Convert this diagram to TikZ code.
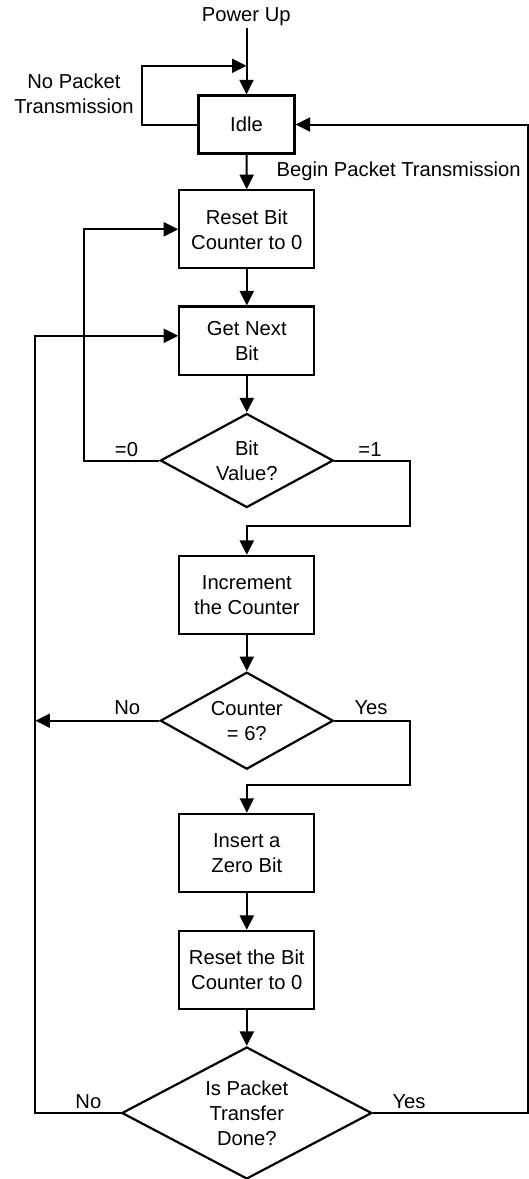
\documentclass[tikz,border=0pt]{standalone}
\usepackage{fontspec}
\setmainfont{Liberation Sans}
\usetikzlibrary{arrows.meta,shapes.geometric}
\begin{document}
\begin{tikzpicture}[x=1pt,y=-1pt,
  font=\fontsize{20.2}{25}\selectfont,
  box/.style={draw, line width=2.2pt, minimum width=135pt, minimum height=78pt, inner sep=0pt, align=center},
  dec/.style={draw, diamond, line width=2.2pt, inner sep=0pt, align=center},
  conn/.style={line width=2pt},
  arr/.style={conn, -{Triangle[length=14.5pt,width=14pt]}},
  lab/.style={inner sep=0pt}]
\useasboundingbox (0,0) rectangle (529,1179);

% nodes
\node[box, minimum width=96pt, minimum height=58pt] (idle) at (246.5,124.5) {Idle};
\node[box] (reset) at (246.8,229.3) {Reset Bit\\Counter to 0};
\node[box, minimum height=68.5pt] (gnb) at (246.8,340.8) {Get Next\\Bit};
\node[dec, minimum width=173pt, minimum height=94pt, shape aspect=1.8] (bitv) at (246.8,460.5) {Bit\\Value?};
\node[box] (inc) at (246.8,595) {Increment\\the Counter};
\node[dec, minimum width=173pt, minimum height=97pt, shape aspect=1.8] (cnt) at (246.8,720.7) {Counter\\= 6?};
\node[box] (ins) at (246.8,852.9) {Insert a\\Zero Bit};
\node[box] (reset2) at (246.8,970) {Reset the Bit\\Counter to 0};
\node[dec, minimum width=250pt, minimum height=132pt, shape aspect=1.85] (done) at (246.8,1113) {Is Packet\\Transfer\\Done?};

% labels
\node[lab, anchor=base] (pwr) at (246.3,21.7) {Power Up};
\node[lab, align=center] (nopk) at (74,93.7) {No Packet\\Transmission};
\node[lab, anchor=base west] (begin) at (276.5,176) {Begin Packet Transmission};
\node[lab] (l0) at (126.5,450) {=0};
\node[lab] (l1) at (370,450) {=1};
\node[lab] (cno) at (127.2,707.7) {No};
\node[lab] (cyes) at (371,707.7) {Yes};
\node[lab] (dno) at (88.4,1102) {No};
\node[lab] (dyes) at (409,1102) {Yes};

% helper coordinates
\coordinate (pwrend) at (246.5,28);
\coordinate (lp) at (141.7,65.8);
\coordinate (rx) at (528,0);
\coordinate (lx) at (35.4,0);
\coordinate (zx) at (83.7,0);
\coordinate (ox) at (410,526.2);
\coordinate (yx) at (410,785);

% connectors
\draw[arr] (pwrend) -- (idle.north);
\draw[arr] (idle.west) -| (lp) -- (lp -| idle.north);
\draw[arr] (idle) -- (reset);
\draw[arr] (reset) -- (gnb);
\draw[arr] (gnb) -- (bitv);
\draw[arr] (bitv.west) -- (bitv.west -| zx) |- (reset.west);
\draw[arr] (bitv.east) -| (ox) -| (inc.north);
\draw[arr] (inc) -- (cnt);
\draw[arr] (cnt.west) -- (cnt.west -| lx);
\draw[arr] (cnt.east) -| (yx) -| (ins.north);
\draw[arr] (ins) -- (reset2);
\draw[arr] (reset2) -- (done);
\draw[arr] (done.west) -- (done.west -| lx) |- ([yshift=5pt]gnb.west);
\draw[arr] (done.east) -- (done.east -| rx) |- (idle.east);
\end{tikzpicture}
\end{document}
